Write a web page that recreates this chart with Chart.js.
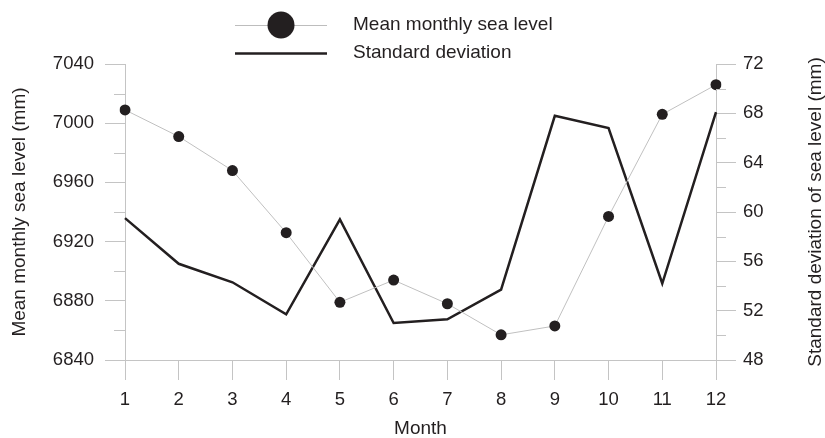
<!DOCTYPE html>
<html>
<head>
<meta charset="utf-8">
<script src="https://cdn.jsdelivr.net/npm/chart.js@4.4.1/dist/chart.umd.min.js"></script>
<style>
body { margin: 0; background: #fff; }
#wrap { width: 825px; height: 438px; position: relative; }
</style>
</head>
<body>
<div id="wrap"><canvas id="myChart"></canvas></div>
<script>
var months = ['1', '2', '3', '4', '5', '6', '7', '8', '9', '10', '11', '12'];
var meanLevel = [7009, 6991, 6968, 6926, 6879, 6894, 6878, 6857, 6863, 6937, 7006, 7026];
var stdDev = [59.5, 55.8, 54.3, 51.7, 59.4, 51.0, 51.3, 53.7, 67.8, 66.8, 54.2, 68.1];
var leftMinorTicks = [6860, 6900, 6940, 6980, 7020];
var rightMinorTicks = [50, 54, 58, 62, 66, 70];

var ink = '#231f20';
var axisGray = '#c4c4c4';
var fontFamily = '"Liberation Sans", Arial, sans-serif';

// minor ticks, legend and the right-hand title (which reads bottom to top)
var extras = {
    id: 'extras',
    afterDraw: function (chart) {
        var ctx = chart.ctx;
        var yl = chart.scales.y, yr = chart.scales.y1;
        ctx.save();
        ctx.strokeStyle = axisGray;
        ctx.lineWidth = 1;
        ctx.beginPath();
        leftMinorTicks.forEach(function (v) {
            var p = Math.round(yl.getPixelForValue(v)) + 0.5;
            ctx.moveTo(yl.right - 11, p);
            ctx.lineTo(yl.right, p);
        });
        rightMinorTicks.forEach(function (v) {
            var p = Math.round(yr.getPixelForValue(v)) + 0.5;
            ctx.moveTo(yr.left, p);
            ctx.lineTo(yr.left + 10, p);
        });
        ctx.stroke();

        // legend
        ctx.strokeStyle = '#bdbdbd';
        ctx.lineWidth = 1;
        ctx.beginPath();
        ctx.moveTo(235, 25.5);
        ctx.lineTo(327, 25.5);
        ctx.stroke();
        ctx.fillStyle = ink;
        ctx.beginPath();
        ctx.arc(281, 25, 13.5, 0, Math.PI * 2);
        ctx.fill();
        ctx.strokeStyle = ink;
        ctx.lineWidth = 2.5;
        ctx.beginPath();
        ctx.moveTo(235, 53.5);
        ctx.lineTo(327, 53.5);
        ctx.stroke();

        ctx.font = '19px ' + fontFamily;
        ctx.textBaseline = 'middle';
        ctx.textAlign = 'left';
        ctx.fillText('Mean monthly sea level', 353, 25);
        ctx.fillText('Standard deviation', 353, 53);

        ctx.translate(816, (chart.chartArea.top + chart.chartArea.bottom) / 2);
        ctx.rotate(-Math.PI / 2);
        ctx.textAlign = 'center';
        ctx.fillText('Standard deviation of sea level (mm)', 0, 0);
        ctx.restore();
    }
};

var ctx = document.getElementById('myChart').getContext('2d');
var myChart = new Chart(ctx, {
    type: 'line',
    data: {
        labels: months,
        datasets: [{
            label: 'Mean monthly sea level',
            data: meanLevel,
            yAxisID: 'y',
            borderColor: '#c0c0c0',
            borderWidth: 1,
            pointRadius: 5.5,
            pointBackgroundColor: ink,
            pointBorderColor: ink,
            pointBorderWidth: 0,
            tension: 0,
            order: 1
        }, {
            label: 'Standard deviation',
            data: stdDev,
            yAxisID: 'y1',
            borderColor: ink,
            borderWidth: 2.5,
            pointRadius: 0,
            tension: 0,
            order: 2
        }]
    },
    options: {
        responsive: true, maintainAspectRatio: false,
        animation: false,
        layout: { padding: { top: 64, left: 0, right: 0, bottom: 0 } },
        plugins: {
            legend: { display: false },
            tooltip: { enabled: false }
        },
        scales: {
            x: {
                offset: false,
                afterFit: function (s) { s.height = 78; },
                border: { color: axisGray, width: 1 },
                grid: { drawOnChartArea: false, tickLength: 20, color: axisGray },
                ticks: { color: ink, padding: 9, font: { family: fontFamily, size: 18.5 }, maxRotation: 0 },
                title: { display: true, text: 'Month', color: ink, padding: { top: 0, bottom: 0 },
                    font: { family: fontFamily, size: 19, lineHeight: 1 } }
            },
            y: {
                position: 'left',
                min: 6840, max: 7040,
                afterFit: function (s) { s.width = 125; },
                border: { color: axisGray, width: 1 },
                grid: { drawOnChartArea: false, tickLength: 20, color: axisGray },
                ticks: { stepSize: 40, color: ink, padding: 11, font: { family: fontFamily, size: 18.5 },
                    callback: function (v) { return String(v); } },
                title: { display: true, text: 'Mean monthly sea level (mm)', color: ink, padding: { top: 10, bottom: 0 },
                    font: { family: fontFamily, size: 19, lineHeight: 1 } }
            },
            y1: {
                position: 'right',
                min: 48, max: 72,
                afterFit: function (s) { s.width = 109; },
                border: { color: axisGray, width: 1 },
                grid: { drawOnChartArea: false, tickLength: 20, color: axisGray },
                ticks: { stepSize: 4, color: ink, padding: 7, font: { family: fontFamily, size: 18.5 },
                    callback: function (v) { return String(v); } }
            }
        }
    },
    plugins: [extras]
});
</script>
</body>
</html>
